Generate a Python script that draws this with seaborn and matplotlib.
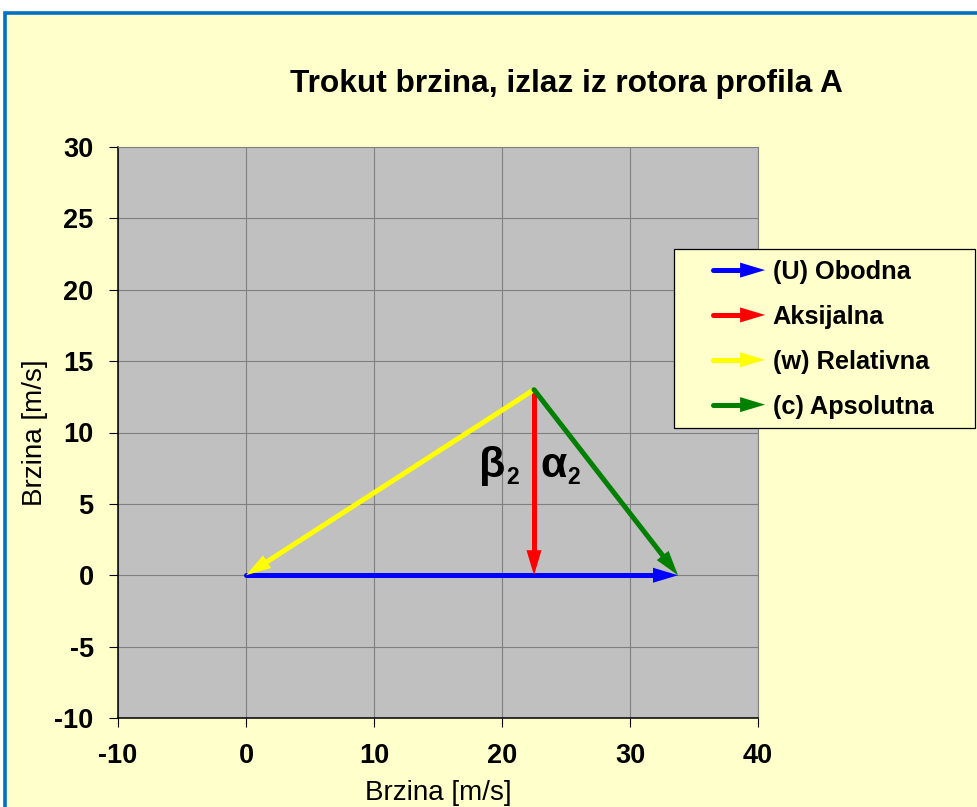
import matplotlib
matplotlib.use("Agg")
import matplotlib.pyplot as plt
import seaborn as sns
import pandas as pd
import numpy as np
from matplotlib.patches import FancyArrowPatch, Rectangle
from matplotlib.lines import Line2D
from matplotlib.legend_handler import HandlerBase

# Velocity triangle at the rotor outlet (m/s)
vector_names = ["(U) Obodna", "Aksijalna", "(w) Relativna", "(c) Apsolutna"]
x_start = [0.0, 22.5, 22.5, 22.5]
y_start = [0.0, 13.0, 13.0, 13.0]
x_end = [33.75, 22.5, 0.0, 33.75]
y_end = [0.0, 0.0, 0.0, 0.0]
vector_colors = ["#0000FF", "#FF0000", "#FFFF00", "#008000"]

x_ticks = [-10, 0, 10, 20, 30, 40]
y_ticks = [-10, -5, 0, 5, 10, 15, 20, 25, 30]

title_text = "Trokut brzina, izlaz iz rotora profila A"
axis_label = "Brzina [m/s]"

sns.set_theme(style="white")
plt.rcParams["font.family"] = ["Liberation Sans", "DejaVu Sans"]
plt.rcParams["axes.unicode_minus"] = False
plt.rcParams["text.color"] = "black"
plt.rcParams["axes.labelcolor"] = "black"
plt.rcParams["legend.labelcolor"] = "black"

W, H = 977, 807
fig = plt.figure(figsize=(W / 100, H / 100), dpi=100)
fig.patch.set_facecolor("white")

# chart area with blue frame on top/left
bg = Rectangle((5 / W, -0.2), 1.5, 1 - 13 / H + 0.2, transform=fig.transFigure,
               facecolor="#FFFFCC", edgecolor="#0070C0", linewidth=2.6,
               clip_on=False, zorder=-5)
fig.add_artist(bg)

ax = fig.add_axes([118 / W, 1 - 718 / H, (758 - 118) / W, (718 - 147) / H])
ax.set_facecolor("#C0C0C0")
ax.set_xlim(-10, 40)
ax.set_ylim(-10, 30)
ax.set_xticks(x_ticks)
ax.set_yticks(y_ticks)
ax.grid(True, color="#808080", linewidth=0.8)
ax.set_axisbelow(True)
for s in ["left", "bottom"]:
    ax.spines[s].set_color("black")
    ax.spines[s].set_linewidth(1.1)
for s in ["top", "right"]:
    ax.spines[s].set_color("#808080")
    ax.spines[s].set_linewidth(0.8)
ax.tick_params(axis="both", direction="out", length=6.5, width=0.8, color="black",
               labelsize=19.5, labelcolor="black", left=True, bottom=True)
ax.tick_params(axis="y", pad=11)
ax.tick_params(axis="x", pad=11.5)
for lab in ax.get_xticklabels() + ax.get_yticklabels():
    lab.set_fontweight("bold")

HEAD_LEN = 18.0   # points
HEAD_HW = 5.4     # half width, points
SHAFT_LW = 3.6
TRIM_PX = 12.0 * 100 / 72

# shaft segments, trimmed so they end under the arrow heads
rows = []
for name, xs, ys, xe, ye in zip(vector_names, x_start, y_start, x_end, y_end):
    p0 = ax.transData.transform((xs, ys))
    p1 = ax.transData.transform((xe, ye))
    d = p1 - p0
    p1t = p1 - d / np.hypot(*d) * TRIM_PX
    xt, yt = ax.transData.inverted().transform(p1t)
    rows.append({"vector": name, "x": xs, "y": ys, "order": 0})
    rows.append({"vector": name, "x": xt, "y": yt, "order": 1})
shafts = pd.DataFrame(rows)

sns.lineplot(data=shafts, x="x", y="y", hue="vector", units="vector",
             estimator=None, sort=False, palette=dict(zip(vector_names, vector_colors)),
             linewidth=SHAFT_LW, legend=False, ax=ax, solid_capstyle="round")

for name, xs, ys, xe, ye, c in zip(vector_names, x_start, y_start, x_end, y_end, vector_colors):
    head = FancyArrowPatch((xs, ys), (xe, ye),
                           arrowstyle=f"-|>,head_length={HEAD_LEN},head_width={HEAD_HW}",
                           mutation_scale=1, linewidth=0, color=c,
                           shrinkA=0, shrinkB=0, zorder=3)
    ax.add_patch(head)

# angle labels beside the axial component
ax.annotate("β", xy=(18.2, 6.9), ha="left", va="baseline", fontsize=31,
            fontweight="bold", color="black")
ax.annotate("2", xy=(18.2, 6.9), xytext=(19.5, -5), textcoords="offset points",
            ha="left", va="baseline", fontsize=16.5, fontweight="bold", color="black")
ax.annotate("α", xy=(23.0, 6.9), ha="left", va="baseline", fontsize=31,
            fontweight="bold", color="black")
ax.annotate("2", xy=(23.0, 6.9), xytext=(19.5, -5), textcoords="offset points",
            ha="left", va="baseline", fontsize=16.5, fontweight="bold", color="black")

ax.set_xlabel(axis_label, fontsize=20, color="black")
ax.set_ylabel(axis_label, fontsize=20, color="black")
ax.xaxis.set_label_coords(0.5, -(793 - 718) / 571)
ax.yaxis.set_label_coords(-(118 - 35) / 640, 0.5)
ax.xaxis.label.set_verticalalignment("center")
ax.yaxis.label.set_verticalalignment("center")

fig.text(566 / W, 1 - 84 / H, title_text, ha="center", va="center",
         fontsize=22.8, fontweight="bold", color="black")


class ArrowHandler(HandlerBase):
    def create_artists(self, legend, orig_handle, xdescent, ydescent,
                       width, height, fontsize, trans):
        y = height / 2 - ydescent
        x0, x1 = -xdescent, -xdescent + width
        c = orig_handle.get_color()
        shaft = Line2D([x0, x1 - 12], [y, y], color=c, linewidth=SHAFT_LW,
                       solid_capstyle="round", transform=trans)
        head = FancyArrowPatch((x0, y), (x1, y),
                               arrowstyle=f"-|>,head_length={HEAD_LEN},head_width={HEAD_HW}",
                               mutation_scale=1, linewidth=0, color=c,
                               shrinkA=0, shrinkB=0, transform=trans)
        return [shaft, head]


frame = Rectangle((674 / W, 1 - 428 / H), (975 - 674) / W, (428 - 249) / H,
                  transform=fig.transFigure, facecolor="#FFFFCC", edgecolor="black",
                  linewidth=0.9, zorder=3)
fig.add_artist(frame)

handles = [Line2D([], [], color=c) for c in vector_colors]
leg = fig.legend(handles, vector_names, handler_map={Line2D: ArrowHandler()},
                 loc="upper left", bbox_to_anchor=(713 / W, 1 - 260 / H),
                 frameon=False, borderpad=0, borderaxespad=0,
                 handlelength=2.05, handletextpad=0.3, labelspacing=0.82,
                 prop={"weight": "bold", "size": 18.3})
for t in leg.get_texts():
    t.set_color("black")
leg.set_zorder(5)

fig.savefig("out.png", dpi=100, facecolor=fig.get_facecolor())
